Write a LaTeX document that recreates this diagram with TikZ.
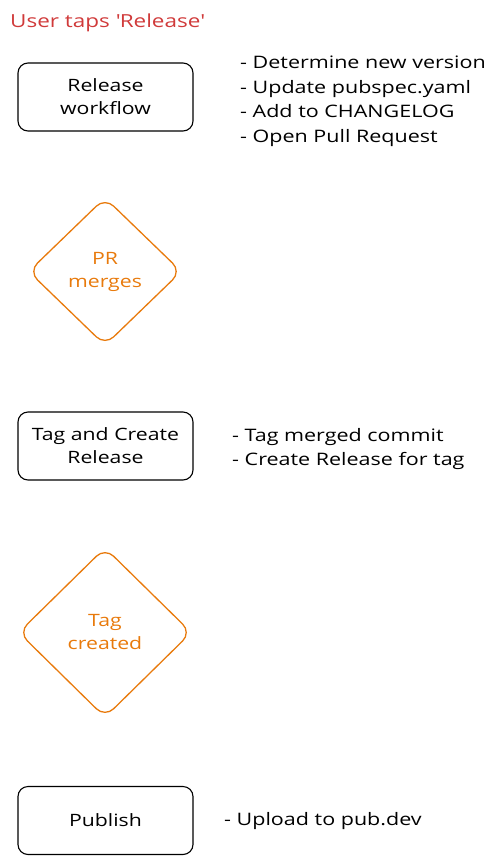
\documentclass[tikz,border=0pt]{standalone}
\usepackage{fontspec}
\setmainfont[FakeStretch=1.25]{Open Sans}
\usetikzlibrary{shapes.geometric}
\definecolor{redtxt}{HTML}{D03A3A}
\definecolor{orng}{HTML}{E87A0C}
\tikzset{
  flowbox/.style={draw=black, line width=1.1pt, rounded corners=10pt, minimum width=175pt, minimum height=68pt, inner sep=0pt, align=center, font=\fontsize{17}{23}\selectfont},
  decision/.style={diamond, draw=orng, line width=1.3pt, rounded corners=12pt, inner sep=0pt, align=center, text=orng, font=\fontsize{17}{23}\selectfont},
  notes/.style={anchor=west, align=left, inner sep=0pt, font=\fontsize{17.2}{24.5}\selectfont},
}
\begin{document}
\begin{tikzpicture}[x=1pt, y=-1pt]
\useasboundingbox (0,0) rectangle (499,863);
\node[anchor=west, inner sep=0pt, text=redtxt, font=\fontsize{18}{20}\selectfont] (title) at (10,23) {User taps \textquotesingle Release\textquotesingle};

\node[flowbox] (release) at (105.5,97) {Release\\workflow};
\node[notes] (relnotes) at (240,101) {- Determine new version\\- Update pubspec.yaml\\- Add to CHANGELOG\\- Open Pull Request};

\node[decision, minimum width=153pt, minimum height=148pt] (prmerges) at (105,271.5) {PR\\merges};

\node[flowbox] (tag) at (105.5,446) {Tag and Create\\Release};
\node[notes] (tagnotes) at (232,449) {- Tag merged commit\\- Create Release for tag};

\node[decision, minimum width=173pt, minimum height=170pt] (tagcreated) at (105,632.5) {Tag\\created};

\node[flowbox] (publish) at (105.5,820.5) {Publish};
\node[notes] (pubnotes) at (224,821) {- Upload to pub.dev};
\end{tikzpicture}
\end{document}
